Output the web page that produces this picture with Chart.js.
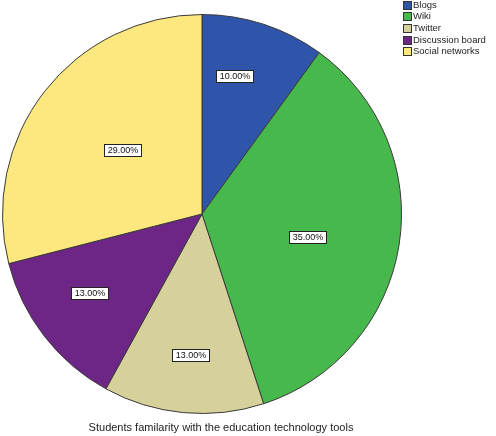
<!DOCTYPE html>
<html>
<head>
<meta charset="utf-8">
<script src="https://cdn.jsdelivr.net/npm/chart.js@4/dist/chart.umd.min.js"></script>
<style>
  html, body { margin: 0; padding: 0; background: #fff; }
  #wrap { width: 496px; height: 436px; position: relative; }
</style>
</head>
<body>
<div id="wrap"><canvas id="myChart"></canvas></div>
<script>
const categories = ['Blogs', 'Wiki', 'Twitter', 'Discussion board', 'Social networks'];
const percentages = [10, 35, 13, 13, 29];
const chartTitle = 'Students familarity with the education technology tools';

const sliceColors = ['#2f55aa', '#47b84b', '#d6d09b', '#6d2685', '#fde77f'];
// where each value box sits inside its slice: share of the slice's angle, share of the radius
const labelAngle = [0.37, 0.525, 0.48, 0.56, 0.51];
const labelRadius = [0.71, 0.54, 0.71, 0.69, 0.51];

const fontFamily = '"Liberation Sans", Arial, sans-serif';

const decorations = {
    id: 'decorations',
    afterDatasetsDraw(chart) {
        const ctx = chart.ctx;
        const meta = chart.getDatasetMeta(0);
        ctx.save();

        // value boxes
        ctx.font = '9px ' + fontFamily;
        ctx.textAlign = 'center';
        ctx.textBaseline = 'middle';
        meta.data.forEach((arc, i) => {
            const a = arc.startAngle + (arc.endAngle - arc.startAngle) * labelAngle[i];
            const r = arc.outerRadius * labelRadius[i];
            const x = arc.x + Math.cos(a) * r;
            const y = arc.y + Math.sin(a) * r;
            const text = percentages[i].toFixed(2) + '%';
            const w = Math.round(ctx.measureText(text).width + 6);
            const h = 12;
            const bx = Math.round(x - w / 2) + 0.5;
            const by = Math.round(y - h / 2) + 0.5;
            ctx.fillStyle = '#ffffff';
            ctx.fillRect(bx, by, w, h);
            ctx.strokeStyle = '#222';
            ctx.lineWidth = 1;
            ctx.strokeRect(bx, by, w, h);
            ctx.fillStyle = '#111';
            ctx.fillText(text, bx + w / 2, by + h / 2 + 0.5);
        });

        // legend top right
        ctx.textAlign = 'left';
        ctx.font = '9.5px ' + fontFamily;
        categories.forEach((name, i) => {
            const cy = 4.5 + i * 11.7;
            ctx.fillStyle = sliceColors[i];
            ctx.fillRect(403.5, Math.round(cy - 4) + 0.5, 8, 8);
            ctx.strokeStyle = '#333';
            ctx.strokeRect(403.5, Math.round(cy - 4) + 0.5, 8, 8);
            ctx.fillStyle = '#222';
            ctx.fillText(name, 413, cy + 0.5);
        });

        // title along the bottom
        ctx.textAlign = 'center';
        ctx.font = '11px ' + fontFamily;
        ctx.fillStyle = '#222';
        ctx.fillText(chartTitle, 221, 428);
        ctx.restore();
    }
};

new Chart(document.getElementById('myChart'), {
    type: 'pie',
    data: {
        labels: categories,
        datasets: [{
            data: percentages,
            backgroundColor: sliceColors,
            borderColor: '#3a3a3a',
            borderWidth: 1
        }]
    },
    options: {
        responsive: true,
        maintainAspectRatio: false,
        animation: false,
        layout: {
            padding: { left: 2, right: 94, top: 14, bottom: 22 }
        },
        plugins: {
            legend: { display: false },
            tooltip: { enabled: false }
        }
    },
    plugins: [decorations]
});
</script>
</body>
</html>
